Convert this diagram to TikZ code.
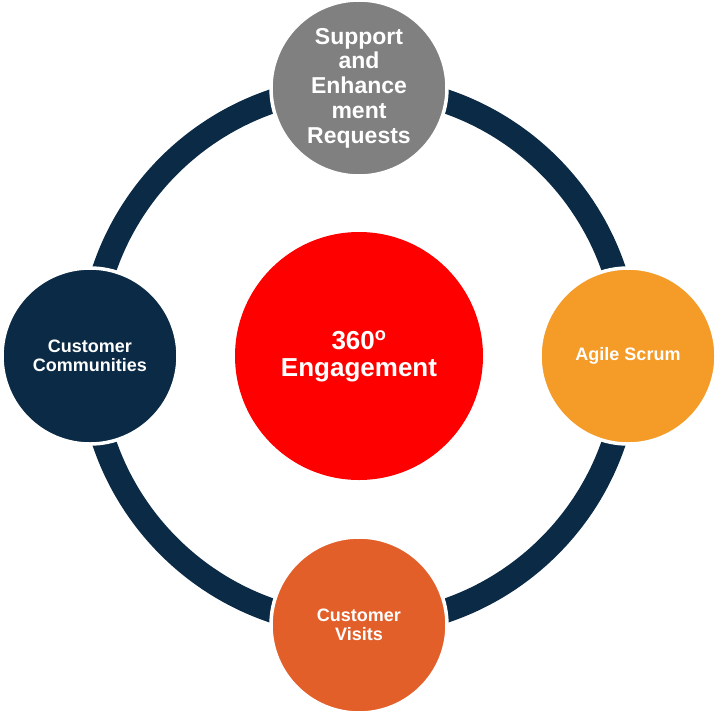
\documentclass[tikz,border=0pt]{standalone}
\usepackage{fontspec}
\setmainfont{Liberation Sans}
\definecolor{navy}{HTML}{0A2A45}
\definecolor{grayc}{HTML}{808080}
\definecolor{orangec}{HTML}{F49B28}
\definecolor{rustc}{HTML}{E35F2A}
\definecolor{redc}{HTML}{FF0000}
\tikzset{
  bubble/.style={circle, draw=white, line width=3.5pt, minimum size=176pt, inner sep=0pt,
    text=white, align=center, font=\bfseries\fontsize{18}{19.4}\selectfont},
  hub/.style={circle, fill=redc, minimum size=248pt, inner sep=0pt,
    text=white, align=center, font=\bfseries\fontsize{26}{27}\selectfont},
  ring/.style={draw=navy, line width=24pt}
}
\begin{document}
\begin{tikzpicture}[x=1pt,y=-1pt]
\useasboundingbox (0,0) rectangle (715,710);
\node[hub] (hub) at (359,356) {360\textsuperscript{o}\\Engagement};
\draw[ring] (hub.center) circle[radius=269pt];
\node[bubble, fill=grayc, font=\bfseries\fontsize{23}{24.7}\selectfont] (top) at (359,88)
  {Support\\and\\Enhance\\ment\\Requests};
\node[bubble, fill=orangec] (right) at (628,356) {Agile Scrum};
\node[bubble, fill=rustc] (bottom) at (359,625) {Customer\\Visits};
\node[bubble, fill=navy] (left) at (90,356) {Customer\\Communities};
\end{tikzpicture}
\end{document}
